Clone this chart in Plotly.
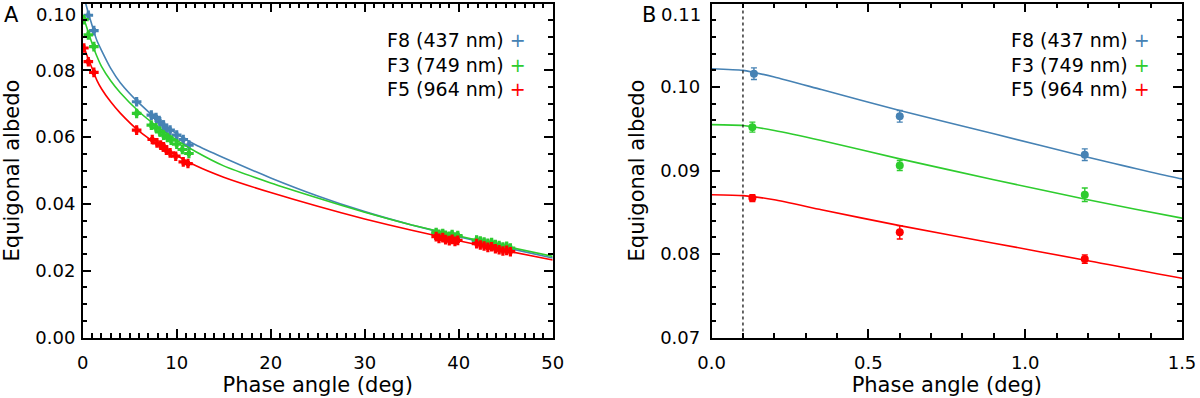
import plotly.graph_objects as go
from plotly.subplots import make_subplots

# ---- model curves ----
curve_x = [0, 0.1, 0.2, 0.35, 0.6, 0.9, 1.2, 1.5, 2, 3, 4, 6, 8, 10, 12, 15, 20, 25, 30, 35, 40, 45, 50]
curve_f8 = [0.1022, 0.1020, 0.1012, 0.0997, 0.0972, 0.0944, 0.0916, 0.0890, 0.0860, 0.0805, 0.0763,
            0.0702, 0.0652, 0.0610, 0.0577, 0.0538, 0.0478, 0.0424, 0.0377, 0.0337, 0.0302, 0.0269, 0.0238]
curve_f3 = [0.0955, 0.0954, 0.0948, 0.0936, 0.0914, 0.0889, 0.0865, 0.0843, 0.0812, 0.0768, 0.0733,
            0.0676, 0.0630, 0.0591, 0.0557, 0.0514, 0.0463, 0.0418, 0.0375, 0.0337, 0.0304, 0.0273, 0.0243]
curve_f5 = [0.0871, 0.0870, 0.0865, 0.0853, 0.0834, 0.0813, 0.0792, 0.0771, 0.0745, 0.0705, 0.0672,
            0.0618, 0.0578, 0.0545, 0.0515, 0.0480, 0.0434, 0.0393, 0.0355, 0.0321, 0.0290, 0.0260, 0.0232]

# ---- measurements ----
# low phase (shown in both panels)
low_x_f8 = [0.135, 0.60, 1.19]
low_y_f8 = [0.1016, 0.0965, 0.0919]
low_e_f8 = [0.0007, 0.0007, 0.0007]
low_x_f3 = [0.130, 0.60, 1.19]
low_y_f3 = [0.0952, 0.0906, 0.0871]
low_e_f3 = [0.0006, 0.0006, 0.0008]
low_x_f5 = [0.130, 0.60, 1.19]
low_y_f5 = [0.0867, 0.0826, 0.0794]
low_e_f5 = [0.0004, 0.0008, 0.0005]

# rest of the phase curve (panel A only)
hi_x_f8 = [5.74, 7.3, 7.8, 8.2, 8.6, 8.9, 9.3, 10.0, 10.7, 11.3,
           37.6, 37.9, 38.3, 38.6, 39.0, 39.3, 39.6, 39.9,
           41.9, 42.3, 42.7, 43.1, 43.5, 43.9, 44.3, 44.7, 45.1, 45.5]
hi_y_f8 = [0.0706, 0.0666, 0.0659, 0.0646, 0.0636, 0.0626, 0.0621, 0.0606, 0.0593, 0.0576,
           0.0312, 0.0306, 0.0309, 0.0303, 0.0300, 0.0305, 0.0298, 0.0302,
           0.0290, 0.0286, 0.0283, 0.0279, 0.0281, 0.0275, 0.0272, 0.0268, 0.0270, 0.0265]
hi_x_f3 = [5.74, 7.3, 7.8, 8.2, 8.6, 9.0, 9.4, 10.0, 10.6, 11.3,
           37.6, 37.9, 38.3, 38.6, 39.0, 39.3, 39.6, 39.9,
           41.9, 42.3, 42.7, 43.1, 43.5, 43.9, 44.3, 44.7, 45.1, 45.5]
hi_y_f3 = [0.0671, 0.0636, 0.0628, 0.0616, 0.0606, 0.0599, 0.0591, 0.0579, 0.0563, 0.0551,
           0.0314, 0.0309, 0.0311, 0.0306, 0.0303, 0.0308, 0.0301, 0.0305,
           0.0292, 0.0289, 0.0286, 0.0282, 0.0284, 0.0278, 0.0275, 0.0271, 0.0273, 0.0268]
hi_x_f5 = [5.74, 7.4, 7.9, 8.3, 8.6, 8.9, 9.3, 9.9, 10.7, 11.2,
           37.6, 37.9, 38.3, 38.6, 39.0, 39.3, 39.6, 39.9,
           41.9, 42.3, 42.7, 43.1, 43.5, 43.9, 44.3, 44.7, 45.1, 45.5]
hi_y_f5 = [0.0621, 0.0593, 0.0583, 0.0576, 0.0571, 0.0561, 0.0553, 0.0543, 0.0526, 0.0521,
           0.0302, 0.0297, 0.0299, 0.0293, 0.0290, 0.0294, 0.0288, 0.0291,
           0.0281, 0.0277, 0.0274, 0.0270, 0.0272, 0.0266, 0.0263, 0.0259, 0.0261, 0.0257]
hi_err = 0.0006

# axis ticks (the topmost label is drawn separately, as in the original it sits inside the frame)
a_y_ticks = [0.00, 0.02, 0.04, 0.06, 0.08, 0.10]
a_y_labels = ["0.00", "0.02", "0.04", "0.06", "0.08", ""]
a_y_top_label = "0.10"
b_y_ticks = [0.07, 0.08, 0.09, 0.10, 0.11]
b_y_labels = ["0.07", "0.08", "0.09", "0.10", ""]
b_y_top_label = "0.11"

legend_labels = ["F8 (437 nm)", "F3 (749 nm)", "F5 (964 nm)"]
colors = ["#4682B4", "#2ECC2E", "#FF0000"]
b_ref_angle = 0.1

FONT = "DejaVu Sans"
TICK_SIZE = 18

fig = make_subplots(rows=1, cols=2)

series = [
    (curve_f8, low_x_f8, low_y_f8, low_e_f8, hi_x_f8, hi_y_f8),
    (curve_f3, low_x_f3, low_y_f3, low_e_f3, hi_x_f3, hi_y_f3),
    (curve_f5, low_x_f5, low_y_f5, low_e_f5, hi_x_f5, hi_y_f5),
]

for (curve, lx, ly, le, hx, hy), color in zip(series, colors):
    for col in (1, 2):
        fig.add_trace(go.Scatter(x=curve_x, y=curve, mode="lines",
                                 line=dict(color=color, width=1.6, shape="spline", smoothing=0.5),
                                 showlegend=False, hoverinfo="skip"), row=1, col=col)
    # panel A points
    fig.add_trace(go.Scatter(x=lx + hx, y=ly + hy, mode="markers",
                             marker=dict(symbol="cross", size=8, color=color),
                             error_y=dict(type="constant", value=hi_err, color=color, thickness=1.2, width=2),
                             showlegend=False), row=1, col=1)
    # panel B points
    fig.add_trace(go.Scatter(x=lx, y=ly, mode="markers",
                             marker=dict(symbol="circle", size=8, color=color),
                             error_y=dict(type="data", array=le, color=color, thickness=1.4, width=3),
                             showlegend=False), row=1, col=2)

fig.add_vline(x=b_ref_angle, line=dict(color="black", width=1.2, dash="dot"), row=1, col=2)

axis_common = dict(showline=True, linecolor="black", linewidth=1.5, mirror="ticks",
                   ticks="inside", ticklen=9, tickwidth=1.5, tickcolor="black",
                   showgrid=False, zeroline=False, automargin=False,
                   tickfont=dict(family=FONT, size=TICK_SIZE, color="black"),
                   title_font=dict(family=FONT, size=21, color="black"))

fig.update_xaxes(axis_common)
fig.update_yaxes(axis_common)

fig.update_xaxes(range=[0, 50], dtick=10, tick0=0, ticklabelstandoff=8,
                 minor=dict(dtick=1, ticks="inside", ticklen=5, tickcolor="black"),
                 domain=[0.0689, 0.4606], title_text="Phase angle (deg)", title_standoff=2,
                 row=1, col=1)
fig.update_yaxes(range=[0, 0.10], tickvals=a_y_ticks, ticktext=a_y_labels, ticklabelstandoff=2,
                 minor=dict(dtick=0.005, ticks="inside", ticklen=5, tickcolor="black"),
                 domain=[0.152, 0.991], title_text="Equigonal albedo", title_standoff=12,
                 row=1, col=1)
fig.update_xaxes(range=[0, 1.5], dtick=0.5, tick0=0, tickformat=".1f", ticklabelstandoff=8,
                 minor=dict(dtick=0.1, ticks="inside", ticklen=5, tickcolor="black"),
                 domain=[0.593, 0.985], title_text="Phase angle (deg)", title_standoff=2,
                 row=1, col=2)
fig.update_yaxes(range=[0.07, 0.11], tickvals=b_y_ticks, ticktext=b_y_labels, ticklabelstandoff=6,
                 minor=dict(dtick=0.002, ticks="inside", ticklen=5, tickcolor="black"),
                 domain=[0.152, 0.991], title_text="Equigonal albedo", title_standoff=10,
                 row=1, col=2)

# topmost y labels, nudged into the frame height
for xref, yref, label, shift in (("x domain", "y domain", a_y_top_label, -6),
                                 ("x2 domain", "y2 domain", b_y_top_label, -10)):
    fig.add_annotation(xref=xref, yref=yref, x=0, y=1, text=label, showarrow=False,
                       xanchor="right", yanchor="top", xshift=shift, yshift=1, borderpad=0,
                       font=dict(family=FONT, size=TICK_SIZE, color="black"))

# legends: one right-aligned block per panel, label followed by a coloured plus
legend_text = "<br>".join(
    f"{label} <span style='color:{color}'>+</span>" for label, color in zip(legend_labels, colors)
)
for xref in ("x domain", "x2 domain"):
    fig.add_annotation(xref=xref, yref="paper", x=0.946 if xref == "x domain" else 0.935, y=0.8374,
                       text=legend_text, showarrow=False, align="right",
                       xanchor="right", yanchor="middle", borderpad=0,
                       font=dict(family=FONT, size=19, color="black"))

# panel letters
for letter, lx_ in (("A", 0.0095), ("B", 0.541)):
    fig.add_annotation(xref="paper", yref="paper", x=lx_, y=0.963, text=letter,
                       showarrow=False, xanchor="center", yanchor="middle", borderpad=0,
                       font=dict(family=FONT, size=21, color="black"))

fig.update_layout(width=1200, height=398, margin=dict(l=0, r=0, t=0, b=0),
                  plot_bgcolor="white", paper_bgcolor="white", showlegend=False)

fig.write_html("out.html", config={"displayModeBar": False},
               post_script="document.body.style.margin='0';")
